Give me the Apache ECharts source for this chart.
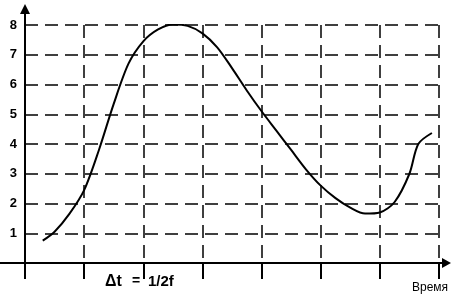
<!DOCTYPE html>
<html>
<head>
<meta charset="utf-8">
<script src="https://cdn.jsdelivr.net/npm/echarts@6/dist/echarts.min.js"></script>
<style>html,body{margin:0;padding:0;background:#fff;}#c{width:451px;height:302px;}</style>
</head>
<body>
<div id="c"></div>
<script>
var xTime = [0.3,0.5,0.75,1.0,1.25,1.5,1.75,2.0,2.25,2.5,2.75,3.0,3.25,3.5,3.75,4.0,4.25,4.5,4.75,5.0,5.25,5.5,5.75,6.0,6.25,6.5,6.65,6.88];
var yValue = [0.75,1.05,1.65,2.45,3.8,5.35,6.7,7.45,7.85,8.02,7.97,7.72,7.25,6.55,5.8,5.1,4.45,3.8,3.15,2.6,2.18,1.86,1.66,1.7,2.05,3.0,4.0,4.37];
var yTicks = [0,1,2,3,4,5,6,7,8];
var xLabel = 'Время';
var dtParts = ['\u0394t', '=', '1/2f'];

var chart = echarts.init(document.getElementById('c'));
var dash = {color:'#000', width:1.5, type:[13,7]};
var dtX = [105, 132, 148];
var graphics = [
  {type:'line', shape:{x1:0,y1:263,x2:25,y2:263}, style:{stroke:'#000', lineWidth:2}},
  {type:'line', shape:{x1:439,y1:263,x2:446,y2:263}, style:{stroke:'#000', lineWidth:2}},
  {type:'polygon', shape:{points:[[451,263],[442,258],[442,268]]}, style:{fill:'#000'}},
  {type:'line', shape:{x1:25,y1:25,x2:25,y2:10}, style:{stroke:'#000', lineWidth:2}},
  {type:'polygon', shape:{points:[[25,4],[20,14],[30,14]]}, style:{fill:'#000'}},
  {type:'text', x:412, y:282, style:{text:xLabel, fill:'#000', font:'12px "Liberation Sans"'}}
];
dtParts.forEach(function(t,i){
  graphics.push({type:'text', x:dtX[i], y:274, style:{text:t, fill:'#000', font:(i===0?'bold 16px':(i===2?'bold 15px':'bold 14px')) + ' "Liberation Sans"'}});
});
chart.setOption({
  animation:false,
  grid:{left:25, right:12, top:25, bottom:39},
  xAxis:{type:'value', min:0, max:7, interval:1,
    axisLine:{lineStyle:{color:'#000', width:2}},
    axisTick:{show:true, length:16, lineStyle:{color:'#000', width:2}},
    axisLabel:{show:false},
    splitLine:{show:true, lineStyle:dash}},
  yAxis:{type:'value', min:0, max:8, interval:1,
    axisLine:{show:true, lineStyle:{color:'#000', width:2}},
    axisTick:{show:false},
    axisLabel:{color:'#000', fontWeight:'bold', fontSize:13, fontFamily:'Liberation Sans', margin:8,
      formatter:function(v){return (v>0 && yTicks.indexOf(v)>=0)? String(v):'';}},
    splitLine:{show:true, lineStyle:dash}},
  series:[{type:'line', smooth:0.3, symbol:'none',
    data: xTime.map(function(x,i){return [x, yValue[i]];}),
    lineStyle:{color:'#000', width:2}}],
  graphic:graphics
});
</script>
</body>
</html>
